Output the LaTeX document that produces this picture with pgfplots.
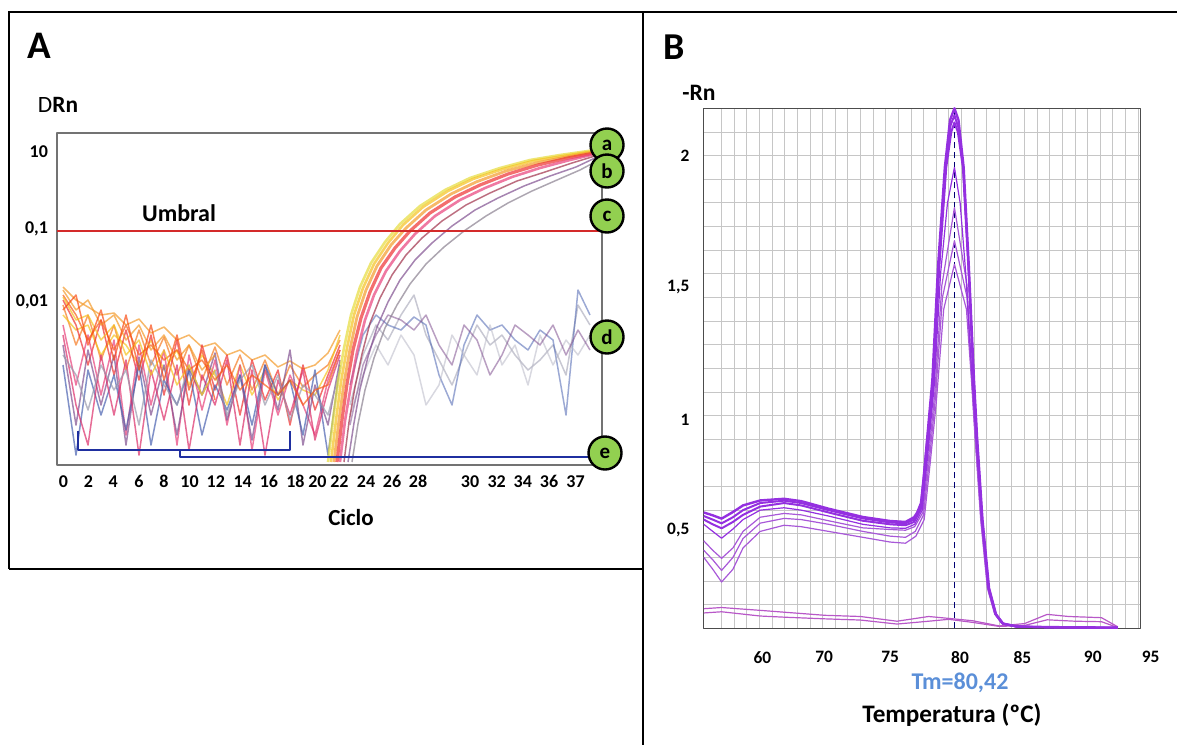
\documentclass[border=0pt]{standalone}
\usepackage{pgfplots}
\pgfplotsset{compat=1.18}
\usepackage{fontspec}
\setmainfont{Carlito}
\definecolor{cgreen}{HTML}{92D050}
\definecolor{cblue}{HTML}{1F2FA0}
\definecolor{cred}{HTML}{D42A2A}
\definecolor{kyel}{HTML}{E6DC3A}
\definecolor{kgold}{HTML}{F5C21E}
\definecolor{kora}{HTML}{F39A2A}
\definecolor{kred}{HTML}{EE3030}
\definecolor{kpink}{HTML}{E8407A}
\definecolor{kmar}{HTML}{A0304A}
\definecolor{kpur}{HTML}{805090}
\definecolor{kgray}{HTML}{8A8090}
\definecolor{nblue}{HTML}{4A62B0}
\definecolor{ngray}{HTML}{9A9AAE}
\definecolor{mpur}{HTML}{9430E0}
\definecolor{mpur2}{HTML}{A858D8}
\definecolor{mpink}{HTML}{B858C8}
\definecolor{tmblue}{HTML}{5B8FD8}
\begin{document}
\begin{tikzpicture}[x=0.5pt,y=0.5pt]
\useasboundingbox (0,0) rectangle (1177,-745);
\begin{scope}[yscale=-1]
% panel frames
\draw[line width=1.1pt] (9,569) -- (9,12) -- (1177,12);
\draw[line width=1.1pt] (9,569) -- (643,569);
\draw[line width=1.1pt] (643,12) -- (643,745);
% titles
\node[font=\fontsize{19.5}{22}\selectfont\bfseries] at (39,46) {A};
\node[font=\fontsize{19}{22}\selectfont\bfseries] at (674,47) {B};
\node[font=\fontsize{11.7}{14}\selectfont] at (58,105) {D\textbf{Rn}};
\node[font=\fontsize{11.8}{14}\selectfont\bfseries] at (699,93) {-Rn};
\node[font=\fontsize{12}{14}\selectfont\bfseries] at (179,213) {Umbral};
\node[font=\fontsize{11.5}{14}\selectfont\bfseries] at (351,518) {Ciclo};
\node[font=\fontsize{12}{14}\selectfont\bfseries, text=tmblue] at (960,683) {Tm=80,42};
\node[font=\fontsize{12.6}{15}\selectfont\bfseries] at (952,715) {Temperatura (ºC)};
\end{scope}

% ---------------- panel A ----------------
\begin{axis}[
  at={(28.5pt,-232.5pt)}, anchor=south west,
  width=272.5pt, height=166pt, scale only axis,
  xmin=57, xmax=602, ymin=0, ymax=332,
  clip=false,
  axis line style={black!55, line width=0.6pt},
  xtick={63.5,88.4,113.3,139,164,189.6,215.8,242.7,268.9,295.4,317.4,339.4,366,392,418,470,496.7,522.8,549,575.5},
  xticklabels={0,2,4,6,8,10,12,14,16,18,20,22,24,26,28,30,32,34,36,37},
  ytick={163,236,313},
  yticklabels={{0,01},{0,1},10},
  tick style={draw=none},
  ticklabel style={font=\fontsize{9}{10}\selectfont\bfseries},
  xticklabel style={anchor=center, yshift=-8.3pt},
  yticklabel style={anchor=east, xshift=-1pt},
  no markers, line join=round,
  every axis plot/.append style={line width=0.75pt, opacity=0.7},
]
% baseline noise
\addplot[kora] coordinates {(63,178)(76,165)(88,158)(101,150)(114,152)(126,140)(139,146)(151,132)(164,138)(177,125)(189,130)(202,118)(215,122)(227,110)(240,115)(252,105)(265,110)(278,98)(290,104)(303,96)(315,100)(328,112)(340,135)};
\addplot[kora!80!red] coordinates {(63,160)(76,120)(88,150)(101,105)(114,140)(126,95)(139,135)(151,100)(164,128)(177,90)(189,120)(202,85)(215,118)(227,80)(240,110)(252,75)(265,105)(278,70)(290,100)(303,78)(315,90)(328,100)(340,125)};
\addplot[kgold] coordinates {(63,150)(76,135)(88,140)(101,110)(114,130)(126,120)(139,100)(151,125)(164,95)(177,115)(189,80)(202,110)(215,90)(227,60)(240,100)(252,70)(265,95)(278,65)(290,85)(303,75)(315,70)(328,95)(340,130)};
\addplot[kred] coordinates {(63,165)(76,140)(88,100)(101,145)(114,90)(126,135)(139,85)(151,130)(164,70)(177,125)(189,60)(202,120)(215,75)(227,110)(240,50)(252,105)(265,65)(278,95)(290,40)(303,100)(315,55)(328,90)(340,120)};
\addplot[kpink] coordinates {(63,140)(76,80)(88,130)(101,70)(114,125)(126,30)(139,120)(151,60)(164,115)(177,20)(189,110)(202,55)(215,105)(227,40)(240,100)(252,15)(265,95)(278,50)(290,90)(303,60)(315,30)(328,85)(340,115)};
\addplot[kpur] coordinates {(63,120)(76,40)(88,115)(101,60)(114,110)(126,20)(139,108)(151,50)(164,100)(177,30)(189,96)(202,70)(215,112)(227,45)(240,90)(252,25)(265,100)(278,55)(290,115)(303,20)(315,80)(328,40)(340,105)};
\addplot[nblue] coordinates {(63,100)(76,10)(88,95)(101,50)(114,90)(126,35)(139,100)(151,20)(164,85)(177,60)(189,95)(202,30)(215,80)(227,55)(240,90)(252,40)(265,100)(278,70)(290,85)(303,30)(315,95)(328,10)(340,100)};
\addplot[kpink!70!purple] coordinates {(63,130)(76,60)(88,20)(101,110)(114,50)(126,105)(139,10)(151,95)(164,45)(177,100)(189,15)(202,90)(215,60)(227,105)(240,20)(252,95)(265,10)(278,85)(290,50)(303,95)(315,25)(328,75)(340,110)};
\addplot[ngray] coordinates {(63,110)(76,90)(88,55)(101,100)(114,75)(126,95)(139,40)(151,105)(164,80)(177,60)(189,100)(202,70)(215,95)(227,50)(240,85)(252,100)(265,60)(278,90)(290,45)(303,80)(315,70)(328,50)(340,95)};
\addplot[kora!60!red] coordinates {(63,170)(76,150)(88,125)(101,145)(114,115)(126,140)(139,110)(151,120)(164,105)(177,115)(189,95)(202,105)(215,85)(227,100)(240,75)(252,90)(265,80)(278,70)(290,85)(303,60)(315,75)(328,80)(340,115)};
\addplot[kora] coordinates {(63,175)(76,155)(88,165)(101,140)(114,150)(126,125)(139,140)(151,115)(164,130)(177,105)(189,120)(202,95)(215,110)};
\addplot[kgold] coordinates {(63,168)(76,145)(88,150)(101,125)(114,140)(126,110)(139,125)(151,90)(164,115)(177,80)(189,100)(202,70)(215,95)};
\addplot[kora!50!red] coordinates {(63,155)(76,170)(88,120)(101,155)(114,105)(126,150)(139,95)(151,140)(164,85)(177,130)(189,75)(202,115)(215,65)};
% negative samples
\addplot[ngray, opacity=0.55] coordinates {(350,60)(363,110)(376,140)(388,125)(401,150)(414,170)(426,130)(439,105)(452,80)(464,110)(477,140)(490,120)(502,130)(515,110)(528,95)(540,105)(553,120)(566,90)(578,160)(590,140)};
\addplot[nblue, opacity=0.55] coordinates {(350,80)(363,130)(376,150)(388,140)(401,135)(414,148)(426,140)(439,90)(452,60)(464,120)(477,150)(490,135)(502,140)(515,125)(528,115)(540,135)(553,125)(566,50)(578,175)(590,150)};
\addplot[ngray!70, opacity=0.55] coordinates {(350,50)(363,90)(376,120)(388,100)(401,130)(414,110)(426,60)(439,80)(452,130)(464,110)(477,90)(490,140)(502,100)(515,120)(528,80)(540,130)(553,100)(566,125)(578,110)(590,130)};
\addplot[kpur, opacity=0.55] coordinates {(350,40)(363,100)(376,130)(388,150)(401,145)(414,135)(426,150)(439,120)(452,100)(464,140)(477,125)(490,90)(502,110)(515,140)(528,130)(540,120)(553,140)(566,110)(578,135)(590,115)};
% amplification curves
\addplot[kyel, line width=1.3pt] coordinates {(328,3)(333,45)(338,83)(344,117)(351,150)(360,178)(371,202)(385,223)(400,241)(420,259)(445,275)(470,287)(500,297)(530,305)(560,310)(595,315)};
\addplot[kgold, line width=1.3pt] coordinates {(331,3)(336,45)(341,83)(347,117)(354,150)(363,177)(374,201)(388,222)(403,240)(423,258)(448,274)(473,286)(503,296)(533,304)(563,309)(595,314)};
\addplot[kora, line width=1.4pt] coordinates {(334,3)(339,45)(344,82)(350,116)(357,148)(366,175)(377,199)(391,220)(406,237)(426,255)(451,271)(476,283)(506,294)(536,302)(566,308)(595,313)};
\addplot[kred, line width=1.6pt] coordinates {(337,3)(342,45)(347,81)(353,115)(361,147)(370,173)(381,197)(395,217)(410,234)(430,252)(455,268)(480,280)(508,291)(538,300)(568,307)(595,312)};
\addplot[kpink, line width=1.3pt] coordinates {(340,3)(345,44)(351,80)(357,113)(365,145)(374,170)(386,194)(400,214)(415,231)(435,249)(460,265)(485,277)(512,288)(540,297)(570,305)(595,311)};
\addplot[kmar] coordinates {(344,3)(349,43)(355,78)(362,111)(370,142)(380,167)(392,190)(406,210)(422,227)(442,244)(466,260)(490,272)(517,284)(545,293)(572,302)(595,309)};
\addplot[kpur] coordinates {(348,3)(354,42)(360,76)(368,108)(377,138)(388,163)(400,185)(415,205)(432,222)(452,239)(475,255)(498,267)(524,279)(550,289)(576,298)(595,307)};
\addplot[kgray] coordinates {(352,3)(358,41)(365,75)(374,107)(385,137)(397,160)(410,181)(426,201)(444,218)(464,234)(486,249)(508,262)(532,274)(557,285)(580,295)(595,303)};
% threshold
\addplot[cred, line width=0.6pt, opacity=1] coordinates {(57,234) (602,234)};
% brackets
\draw[cblue, line width=0.8pt] (78,34) -- (78,15) -- (290,15) -- (290,34);
\draw[cblue, line width=0.8pt] (180,15) -- (180,8) -- (589,8);
% labels
\tikzset{lab/.style={circle, draw=black, line width=1.2pt, fill=cgreen, minimum size=16.5pt, inner sep=0pt, font=\fontsize{10.5}{12}\selectfont\bfseries}}
\node[lab] at (607,320) {a};
\node[lab] at (607,294) {b};
\node[lab] at (607,249) {c};
\node[lab] at (607,128) {d};
\node[lab] at (605,12) {e};
\end{axis}

% ---------------- panel B ----------------
\begin{axis}[
  at={(351.7pt,-314.15pt)}, anchor=south west,
  width=218.6pt, height=260pt, scale only axis,
  xmin=-1.44, xmax=33.2, ymin=0, ymax=2.2,
  clip=false,
  axis line style={black!70, line width=0.6pt},
  xminorgrids=true, yminorgrids=true,
  minor grid style={gray!45, line width=0.4pt},
  minor xtick={0,1,2,3,4,5,6,7,8,9,10,11,12,13,14,15,16,17,18,19,20,21,22,23,24,25,26,27,28,29,30,31,32,33},
  minor ytick={0.1,0.2,0.3,0.4,0.5,0.6,0.7,0.8,0.9,1.0,1.1,1.2,1.3,1.4,1.5,1.6,1.7,1.8,1.9,2.0,2.1},
  xtick={3.23,8.13,13.35,18.89,23.84,29.41},
  xticklabels={60,70,75,80,85,90},
  ytick={0.416,0.882,1.442,1.998},
  yticklabels={{0,5},1,{1,5},2},
  tick style={draw=none},
  ticklabel style={font=\fontsize{8.7}{10}\selectfont\bfseries},
  xticklabel style={anchor=center, yshift=-14.5pt},
  yticklabel style={anchor=east, xshift=-3.5pt},
  no markers, line join=round,
  every axis plot/.append style={line width=0.6pt},
]
\addplot[mpink] coordinates {(-1.41,.083)(0,.088)(1.5,.082)(3.06,.076)(5,.068)(8.2,.055)(11,.05)(13.9,.03)(16.4,.05)(18,.042)(19.9,.032)(22,.01)(24,.02)(25.8,.059)(27.5,.05)(30.1,.045)(31.4,.006)};
\addplot[mpink] coordinates {(-1.41,.065)(0,.07)(3.06,.052)(5,.047)(8.2,.04)(11,.035)(13.9,.018)(16.4,.03)(18,.038)(19.9,.025)(22,.008)(24,.012)(25.8,.036)(28,.03)(30.1,.028)(31.4,.003)};
\addplot[blue!45!black, densely dashed, line width=0.4pt] coordinates {(18.45,0) (18.45,2.2)};
\addplot[mpur2] coordinates {(-1.41,.30)(-0.7,.25)(0,.196)(0.9,.25)(1.7,.34)(3.06,.41)(4.95,.436)(6.31,.43)(8.48,.41)(11.19,.385)(13.35,.365)(14.57,.36)(15.4,.39)(16.05,.46)(16.55,.71)(17.0,.95)(17.6,1.35)(18.45,1.54)(19.4,1.35)(19.8,1.05)(20.08,.81)(20.53,.46)(21.06,.17)(21.64,.06)(22.2,.02)(23.4,.006)(26,.004)(31.4,.002)};
\addplot[mpur2] coordinates {(-1.41,.33)(-0.7,.29)(0,.245)(0.9,.30)(1.7,.38)(3.06,.445)(4.95,.465)(6.31,.46)(8.48,.44)(11.19,.41)(13.35,.39)(14.57,.385)(15.35,.41)(16.0,.48)(16.5,.73)(16.95,.98)(17.5,1.40)(18.45,1.64)(19.45,1.40)(19.82,1.05)(20.1,.81)(20.55,.46)(21.08,.17)(21.66,.06)(22.22,.02)(23.4,.006)(26,.004)(31.4,.002)};
\addplot[mpur2] coordinates {(-1.41,.37)(-0.7,.33)(0,.296)(0.9,.34)(1.7,.41)(3.06,.47)(4.95,.486)(6.31,.48)(8.48,.455)(11.19,.425)(13.35,.418)(14.57,.415)(15.3,.43)(15.95,.49)(16.45,.75)(16.9,1.00)(17.45,1.45)(18.45,1.78)(19.45,1.45)(19.85,1.05)(20.12,.81)(20.58,.46)(21.1,.17)(21.68,.06)(22.25,.02)(23.4,.006)(26,.004)(31.4,.002)};
\addplot[mpur] coordinates {(-1.41,.44)(-0.7,.41)(0,.381)(0.9,.42)(1.7,.46)(3.06,.50)(4.95,.51)(6.31,.50)(8.48,.475)(11.19,.44)(13.35,.425)(14.57,.423)(15.3,.44)(15.9,.50)(16.4,.77)(16.85,1.03)(17.35,1.50)(17.9,1.80)(18.45,1.95)(18.9,1.80)(19.35,1.50)(19.85,1.05)(20.15,.81)(20.6,.46)(21.12,.17)(21.7,.06)(22.25,.02)(23.4,.006)(26,.004)(31.4,.002)};
\addplot[mpur, line width=1pt] coordinates {(-1.41,.46)(-0.7,.44)(0,.423)(0.9,.45)(1.7,.48)(3.06,.515)(4.95,.53)(6.31,.52)(8.48,.49)(11.19,.455)(13.35,.44)(14.57,.436)(15.25,.45)(15.85,.51)(16.35,.79)(16.8,1.05)(17.25,1.53)(17.8,1.95)(18.2,2.10)(18.45,2.14)(18.72,2.10)(19.12,1.95)(19.55,1.53)(19.96,1.05)(20.2,.81)(20.63,.46)(21.15,.17)(21.7,.06)(22.28,.02)(23.4,.007)(26,.004)(31.4,.002)};
\addplot[mpur, line width=1pt] coordinates {(-1.41,.475)(-0.7,.46)(0,.444)(0.9,.47)(1.7,.50)(3.06,.53)(4.95,.54)(6.31,.53)(8.48,.50)(11.19,.465)(13.35,.448)(14.57,.444)(15.25,.46)(15.8,.52)(16.3,.80)(16.75,1.05)(17.2,1.53)(17.75,1.95)(18.15,2.13)(18.45,2.17)(18.75,2.12)(19.15,1.95)(19.57,1.53)(19.98,1.05)(20.22,.81)(20.65,.46)(21.17,.17)(21.72,.06)(22.3,.02)(23.4,.007)(26,.004)(31.4,.003)};
\addplot[mpur, line width=1.2pt] coordinates {(-1.41,.49)(-0.7,.478)(0,.464)(0.9,.492)(1.7,.52)(3.06,.541)(4.95,.548)(6.31,.538)(8.48,.506)(11.19,.471)(13.35,.454)(14.57,.450)(15.25,.47)(15.5,.49)(15.8,.53)(16.0,.63)(16.3,.81)(16.7,1.05)(17.15,1.53)(17.69,1.95)(18.1,2.15)(18.45,2.20)(18.77,2.15)(19.18,1.95)(19.59,1.53)(20.0,1.05)(20.24,.81)(20.67,.46)(21.19,.17)(21.74,.06)(22.3,.02)(23.4,.008)(26,.005)(31.4,.003)};
\node[font=\fontsize{8.7}{10}\selectfont\bfseries, yshift=-14.5pt] at (axis cs:34.0,0) {95};
\end{axis}
\end{tikzpicture}
\end{document}
